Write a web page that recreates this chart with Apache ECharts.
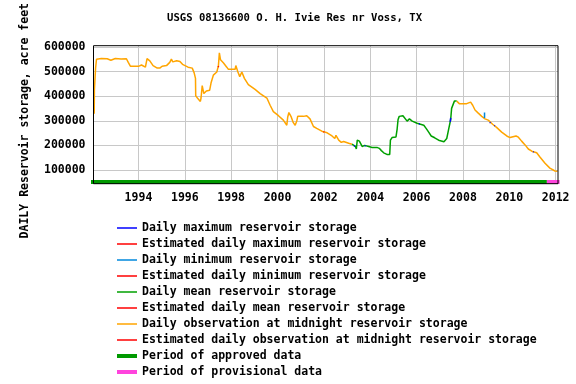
<!DOCTYPE html>
<html>
<head>
<meta charset="utf-8">
<script src="https://cdn.jsdelivr.net/npm/echarts@6/dist/echarts.min.js"></script>
<style>html,body{margin:0;padding:0;background:#fff;}#c{width:576px;height:384px;}</style>
</head>
<body>
<div id="c"></div>
<script>
// ---- data (decimal years, acre-feet) ----
var yearTicks = [1994, 1996, 1998, 2000, 2002, 2004, 2006, 2008, 2010, 2012];
var storageTicks = [100000, 200000, 300000, 400000, 500000, 600000];

var midnightDates = [1992.09,1992.10,1992.15,1992.19,1992.40,1992.65,1992.81,1993.00,1993.25,1993.48,1993.56,1993.65,1994.00,1994.13,1994.30,1994.37,1994.49,1994.63,1994.81,1994.92,1995.02,1995.21,1995.35,1995.42,1995.48,1995.54,1995.65,1995.79,1995.90,1996.14,1996.32,1996.40,1996.46,1996.47,1996.57,1996.67,1996.70,1996.75,1996.79,1996.82,1996.93,1997.07,1997.13,1997.23,1997.38,1997.45,1997.49,1997.54,1997.67,1997.81,1997.88,1998.17,1998.20,1998.29,1998.37,1998.46,1998.57,1998.74,1999.03,1999.25,1999.54,1999.68,1999.82,2000.04,2000.25,2000.40,2000.44,2000.49,2000.59,2000.68,2000.76,2000.83,2000.87,2001.12,2001.26,2001.40,2001.55,2001.69,2001.91,2002.14,2002.35,2002.47,2002.52,2002.64,2002.75,2002.85,2003.07,2003.21,
  2005.0,
  2007.73,2007.84,2008.16,2008.23,2008.33,2008.42,2008.52,2008.66,2008.81,2008.95,2009.09,2009.28,2009.45,2009.67,2009.89,2010.03,2010.10,2010.29,2010.39,2010.53,2010.68,2010.82,2010.97,2011.18,2011.32,2011.54,2011.75,2011.97,2012.08];
var midnightStorage = [328700,428000,514700,551000,554000,553000,547000,554000,552000,553000,538000,522500,522000,527500,518600,553500,544500,525000,514700,514700,522500,525000,538000,551000,540000,548000,545000,542000,530000,518600,514700,496500,473000,402000,389500,379000,393000,443800,440000,411000,421700,424400,454000,486000,499000,525000,576700,548400,535300,518600,509600,509600,525000,499000,480000,499000,473000,447500,428000,411000,393000,363600,337600,321000,302800,282200,315900,333700,316000,292600,282200,299000,318200,318200,321000,308000,277000,269400,257800,251200,238400,228000,240800,221300,212400,216000,208500,204700,
  null,
  380300,370000,370000,376400,376400,363600,344200,331400,318200,308000,303000,286000,273300,254000,238400,231800,238400,238400,233400,217400,202000,185300,176300,169800,153100,127100,107500,95700,95000];

var meanDates = [2003.21,2003.36,2003.40,2003.44,2003.53,2003.65,2003.76,2003.82,2003.93,2004.08,2004.29,2004.39,2004.48,2004.58,2004.72,2004.84,2004.87,2004.94,2005.11,2005.16,2005.20,2005.25,2005.41,2005.48,2005.59,2005.69,2005.81,2006.02,2006.31,2006.41,2006.52,2006.63,2006.78,2006.95,2007.18,2007.22,2007.30,2007.37,2007.44,2007.47,2007.51,2007.58,2007.63,2007.73];
var meanStorage = [204700,195700,185300,221300,217300,195700,200000,204700,195700,191800,191800,188000,178700,169800,163200,163200,221300,231800,234500,266700,305500,318200,321000,316000,299000,308000,299000,290000,282200,269400,254000,238400,231000,221300,215000,212400,228000,260000,267000,305500,350700,348000,380300,380300];

var maxDates = [2003.30,2003.34,2003.35, 2003.76,2003.80,2003.81, 2006.10,2006.14,2006.15, 2007.45,2007.47,2007.48, 2009.15,2009.19,2009.20, 2009.35,2009.38,2009.39, 2011.02,2011.05];
var maxStorage = [199000,196000,null, 199000,197000,null, 288000,287000,null, 296000,312000,null, 294000,292000,null, 281000,279000,null, 174000,173000];

var minDates = [2008.93, 2008.93];
var minStorage = [312000, 334000];

var estMidnightDates = [1997.44, 1997.46, 1997.47, 2001.98, 2002.02];
var estMidnightStorage = [519000, 523000, null, 255500, 254000];

var approvedPeriod = [1991.95, 2011.62];
var provisionalPeriod = [2011.62, 2012.17];
var periodLevel = 51000;

function pairs(xs, ys) {
  return xs.map(function (x, i) { return [x, ys[i]]; });
}

var FONT = '"DejaVu Sans Mono", "Liberation Mono", monospace';
var chart = echarts.init(document.getElementById('c'));

function lineSeries(name, color, data, width) {
  return {
    name: name, type: 'line', data: data, symbol: 'none', showSymbol: false,
    connectNulls: false, animation: false,
    lineStyle: { color: color, width: width || 1.5 }, itemStyle: { color: color },
    z: 3
  };
}

var series = [
  lineSeries('Daily maximum reservoir storage', '#0000ff', pairs(maxDates, maxStorage)),
  lineSeries('Estimated daily maximum reservoir storage', '#ff0000', []),
  lineSeries('Daily minimum reservoir storage', '#0088dd', pairs(minDates, minStorage)),
  lineSeries('Estimated daily minimum reservoir storage', '#ff0000', []),
  lineSeries('Daily mean reservoir storage', '#00a000', pairs(meanDates, meanStorage)),
  lineSeries('Estimated daily mean reservoir storage', '#ff0000', []),
  lineSeries('Daily observation at midnight reservoir storage', '#ffa500', pairs(midnightDates, midnightStorage)),
  lineSeries('Estimated daily observation at midnight reservoir storage', '#ff0000', pairs(estMidnightDates, estMidnightStorage)),
  {
    name: 'Period of approved data', type: 'line', symbol: 'none', clip: false, animation: false,
    data: approvedPeriod.map(function (x) { return [x, periodLevel]; }),
    lineStyle: { color: '#009900', width: 4, cap: 'butt' }, itemStyle: { color: '#009900' }, z: 4
  },
  {
    name: 'Period of provisional data', type: 'line', symbol: 'none', clip: false, animation: false,
    data: provisionalPeriod.map(function (x) { return [x, periodLevel]; }),
    lineStyle: { color: '#ff44dd', width: 4, cap: 'butt' }, itemStyle: { color: '#ff44dd' }, z: 4
  }
];
[0, 1, 2, 3, 5, 7].forEach(function (i) { series[i].z = 5; });

chart.setOption({
  animation: false,
  backgroundColor: '#ffffff',
  title: {
    text: 'USGS 08136600 O. H. Ivie Res nr Voss, TX',
    left: 167, top: 13, padding: 0,
    textStyle: { fontFamily: FONT, fontWeight: 'bold', fontSize: 10.6, color: '#000' }
  },
  grid: {
    left: 93.5, right: 18, top: 38.5, bottom: 200.3,
    show: true, borderColor: '#000', borderWidth: 1, backgroundColor: 'transparent', z: 10
  },
  legend: {
    orient: 'vertical', left: 115, top: 221, height: 163, padding: 0,
    itemWidth: 20, itemHeight: 14, itemGap: 2,
    itemStyle: { opacity: 0 },
    textStyle: { fontFamily: FONT, fontWeight: 'bold', fontSize: 11.5, color: '#000', lineHeight: 14 },
    selectedMode: false,
    data: series.map(function (s, i) {
      return { name: s.name, lineStyle: { width: i >= 8 ? 4 : 1.5, cap: 'butt' } };
    })
  },
  xAxis: {
    type: 'value', min: 1992.06, max: 2012.10,
    axisLine: { show: false },
    axisTick: { show: false, customValues: yearTicks },
    axisLabel: {
      customValues: yearTicks, margin: 8,
      formatter: function (v) { return String(Math.round(v)); },
      fontFamily: FONT, fontWeight: 'bold', fontSize: 11.5, color: '#000'
    },
    splitLine: { show: true, lineStyle: { color: '#c8c8c8', width: 1 } }
  },
  yAxis: {
    type: 'value', min: 44000, max: 606000,
    name: 'DAILY Reservoir storage, acre feet',
    nameLocation: 'middle', nameGap: 62,
    nameTextStyle: { fontFamily: FONT, fontWeight: 'bold', fontSize: 11.5, color: '#000', padding: [0, 12, 0, 0] },
    axisLine: { show: false },
    axisTick: { show: false, customValues: storageTicks },
    axisLabel: {
      customValues: storageTicks, margin: 8,
      formatter: function (v) { return String(v); },
      fontFamily: FONT, fontWeight: 'bold', fontSize: 11.5, color: '#000'
    },
    splitLine: { show: true, lineStyle: { color: '#c8c8c8', width: 1 } }
  },
  series: series
});
</script>
</body>
</html>
